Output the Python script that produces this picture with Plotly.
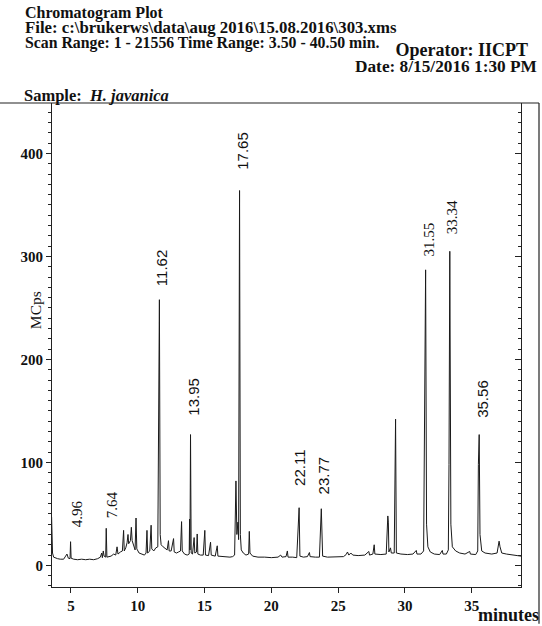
import plotly.graph_objects as go

# ---- data ----
rt_min = [3.55, 3.58, 3.62, 3.70, 3.85, 4.0, 4.2, 4.45, 4.6, 4.7, 4.8, 4.93, 4.97, 5.01, 5.2, 5.5, 5.8, 6.1, 6.4, 6.7,
          7.0, 7.2, 7.3, 7.35, 7.42, 7.48, 7.6, 7.64, 7.69, 7.8, 8.0, 8.2, 8.35, 8.45, 8.52, 8.7, 8.85, 8.94, 8.99,
          9.1, 9.2, 9.27, 9.32, 9.45, 9.52, 9.58, 9.7, 9.8, 9.87, 9.93, 10.1, 10.3, 10.5, 10.62, 10.69, 10.74, 10.9,
          11.0, 11.05, 11.2, 11.35, 11.5, 11.62, 11.68, 11.75, 11.9, 12.05, 12.2, 12.3, 12.35, 12.5, 12.68, 12.73,
          12.9, 13.05, 13.2, 13.28, 13.33, 13.5, 13.7, 13.85, 13.88, 13.91, 13.95, 14.0, 14.1, 14.22, 14.27, 14.4,
          14.45, 14.5, 14.7, 14.9, 15.02, 15.07, 15.3, 15.45, 15.5, 15.8, 15.95, 16.0, 16.3, 16.6, 16.9, 17.1, 17.25,
          17.35, 17.42, 17.5, 17.55, 17.62, 17.68, 17.75, 17.9, 18.1, 18.3, 18.35, 18.4, 18.6, 19.0, 19.5, 20.0,
          20.5, 20.7, 20.8, 21.1, 21.2, 21.25, 21.6, 21.9, 22.08, 22.14, 22.4, 22.7, 22.85, 22.9, 23.3, 23.6, 23.74,
          23.78, 23.84, 24.2, 24.6, 25.0, 25.4, 25.6, 25.7, 25.8, 25.95, 26.1, 26.5, 27.0, 27.3, 27.35, 27.6, 27.7,
          27.75, 28.2, 28.6, 28.72, 28.76, 28.8, 28.92, 28.98, 29.2, 29.3, 29.36, 29.7, 30.2, 30.6, 30.85, 30.9,
          31.2, 31.4, 31.45, 31.55, 31.62, 31.72, 31.9, 32.2, 32.6, 32.8, 32.85, 33.1, 33.25, 33.3, 33.36, 33.44,
          33.55, 33.8, 34.1, 34.5, 34.85, 34.9, 35.3, 35.45, 35.5, 35.56, 35.62, 35.75, 36.0, 36.5, 36.9, 37.05,
          37.12, 37.25, 37.6, 38.0, 38.4, 38.7]
mcps = [47, 30, 12, 8, 7, 6.5, 6, 6, 9, 11, 7, 6.5, 23, 7, 6, 5.5, 6, 5.5, 6, 5.5,
        6.5, 8, 12, 7.5, 14, 9, 8, 36, 8, 8.5, 9, 11, 10, 18, 11, 13, 14, 34, 14,
        17, 22, 30, 21, 24, 37, 24, 18, 15, 46, 16, 12, 11, 10, 12, 34, 12, 14,
        39, 16, 14, 17, 18, 258, 30, 20, 18, 16, 15, 24, 14, 14, 26, 13,
        12, 13, 14, 42.5, 14, 11, 10, 11, 45, 15, 127, 12, 11, 27, 12, 13,
        30.5, 11, 10, 10, 34, 10, 9.5, 22.5, 10, 9, 19, 9, 8.5, 8, 8, 8.5, 10,
        82, 30, 42, 25, 364, 30, 15, 12, 10, 11, 33, 12, 9, 8, 8, 7.5,
        8, 10, 8, 8.5, 14, 8, 8, 7.5, 56, 9, 8, 8.5, 12.5, 8.5, 8, 8, 55,
        43, 9, 8, 8, 8, 8.5, 10.5, 13, 10, 12, 10, 9.5, 10, 13.5, 10, 11, 20,
        11, 10.5, 11, 48, 42, 13, 17, 12, 12, 142, 12, 11, 10.5, 11, 14.5, 11,
        11, 14, 82, 287, 40, 18, 13, 11, 10.5, 14.5, 11, 11, 15, 98, 305, 40,
        18, 14, 12, 11, 13.5, 11, 10.5, 14, 98, 127, 30, 14, 12, 11, 12, 23.5,
        18, 12, 11, 10, 9.5, 9]

label_text = ["4.96", "7.64", "11.62", "13.95", "17.65", "22.11", "23.77", "31.55", "33.34", "35.56"]
label_rt = [5.45, 8.07, 11.83, 14.18, 17.87, 22.11, 23.91, 31.77, 33.52, 35.79]
label_mcps = [50.6, 59.3, 288.8, 163.4, 402.5, 94.2, 86.9, 316.0, 338.1, 162.0]
label_serif = [True, True, False, False, False, False, False, True, True, False]

y_ticks = [0, 100, 200, 300, 400]
x_ticks = [5, 10, 15, 20, 25, 30, 35]

W, H = 542, 626
ML, MR, MT, MB = 52, 21, 103, 37
PW, PH = W - ML - MR, H - MT - MB


def px(p):
    return (p - ML) / PW


def py(q):
    return (H - MB - q) / PH


SERIF = "Liberation Serif, DejaVu Serif, serif"
SANS = "Liberation Sans, Arial, sans-serif"

fig = go.Figure()
fig.add_trace(go.Scatter(x=rt_min, y=mcps, mode="lines",
                         line=dict(color="#1a1a1a", width=1), hoverinfo="skip"))
fig.add_trace(go.Scatter(x=rt_min, y=mcps, mode="lines", yaxis="y2",
                         line=dict(color="rgba(0,0,0,0)", width=0), hoverinfo="skip"))

yr = [-21, 449]
fig.update_layout(
    width=W, height=H, showlegend=False,
    margin=dict(l=ML, r=MR, t=MT, b=MB, pad=0),
    paper_bgcolor="white", plot_bgcolor="white",
    xaxis=dict(range=[3.58, 38.69], tickvals=x_ticks, ticks="outside", ticklen=5,
               tickcolor="#222", showline=True, linecolor="#222", linewidth=1,
               showgrid=False, zeroline=False,
               tickfont=dict(family=SERIF, size=15, color="#111", weight="bold")),
    yaxis=dict(range=yr, tickvals=y_ticks, ticks="outside", ticklen=5, tickcolor="#222",
               showline=True, linecolor="#222", linewidth=1, showgrid=False, zeroline=False,
               minor=dict(dtick=10, ticks="outside", ticklen=3, tickcolor="#222"),
               tickfont=dict(family=SERIF, size=15, color="#111", weight="bold")),
    yaxis2=dict(range=yr, overlaying="y", side="right", tickvals=y_ticks, ticks="inside",
                ticklen=6, tickcolor="#222", showline=True, linecolor="#222", linewidth=1,
                showgrid=False, zeroline=False, showticklabels=False,
                minor=dict(dtick=10, ticks="inside", ticklen=3, tickcolor="#222")),
)

# frame lines
fig.add_shape(type="line", xref="paper", yref="paper", x0=px(0), x1=px(539), y0=1, y1=1,
              line=dict(color="#222", width=1.2))
fig.add_shape(type="line", xref="paper", yref="paper", x0=px(539), x1=px(539), y0=1, y1=py(626),
              line=dict(color="#222", width=1.2))

# peak labels
for t, x, y, s in zip(label_text, label_rt, label_mcps, label_serif):
    fig.add_annotation(x=x, y=y, xref="x", yref="y", text=t, showarrow=False, textangle=-90,
                       font=dict(family=SERIF if s else SANS, size=15, color="#111"))

# header text blocks
left_block = ('<span style="font-size:16px"><b>Chromatogram Plot</b></span><br>'
              '<span style="font-size:16.8px"><b>File: c:\\brukerws\\data\\aug 2016\\15.08.2016\\303.xms</b></span><br>'
              '<span style="font-size:15.8px"><b>Scan Range: 1 - 21556 Time Range: 3.50 - 40.50 min.</b></span>')
fig.add_annotation(x=px(23), y=py(28), xref="paper", yref="paper", text=left_block, showarrow=False,
                   xanchor="left", yanchor="middle", align="left",
                   font=dict(family=SERIF, size=11.5, color="#111"))

right_block = ('<span style="font-size:18px"><b>Operator: IICPT\u00a0\u00a0</b></span><br>'
               '<span style="font-size:17.3px"><b>Date: 8/15/2016 1:30 PM</b></span>')
fig.add_annotation(x=px(539), y=py(58), xref="paper", yref="paper", text=right_block, showarrow=False,
                   xanchor="right", yanchor="middle", align="right",
                   font=dict(family=SERIF, size=12.3, color="#111"))

fig.add_annotation(x=px(22), y=py(95), xref="paper", yref="paper",
                   text="<b>Sample:  <i>H. javanica</i></b>", showarrow=False,
                   xanchor="left", yanchor="middle", font=dict(family=SERIF, size=16.5, color="#111"))

fig.add_annotation(x=px(24.5), y=py(311), xref="paper", yref="paper", text="MCps", showarrow=False,
                   textangle=-90, font=dict(family=SERIF, size=15.5, color="#111"))
fig.add_annotation(x=px(541), y=py(617), xref="paper", yref="paper", text="<b>minutes</b>",
                   showarrow=False, xanchor="right", yanchor="middle",
                   font=dict(family=SERIF, size=18, color="#111"))

fig.write_html("out.html", config={"displayModeBar": False},
               post_script="document.body.style.margin='0';document.body.style.padding='0';")
